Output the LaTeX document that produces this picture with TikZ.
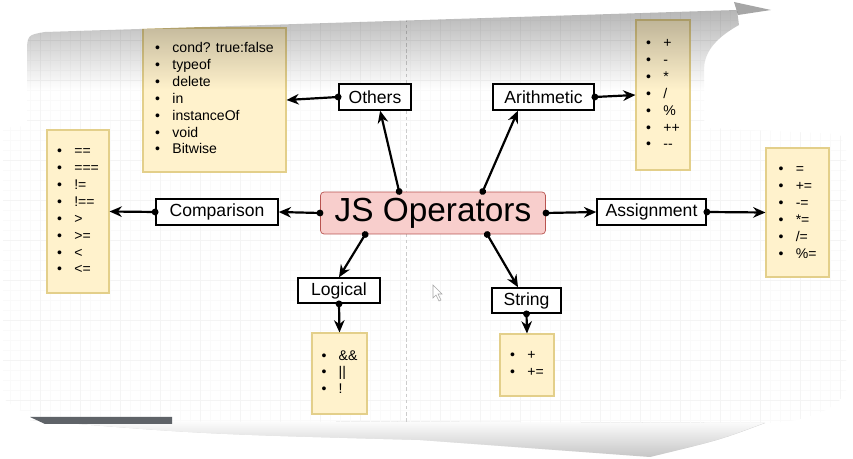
\documentclass[tikz,border=0pt]{standalone}
\usepackage{fontspec}
\setmainfont{Liberation Sans}
\usepackage{tikz}
\usetikzlibrary{arrows.meta,calc,fadings}
\definecolor{opPink}{HTML}{F8CECC}
\definecolor{opRed}{HTML}{B85450}
\definecolor{noteFill}{HTML}{FFF2CC}
\definecolor{noteLine}{HTML}{E3CF8A}
\definecolor{barGray}{HTML}{5F6368}
\tikzfading[name=topband, top color=transparent!0, bottom color=transparent!100]
\newcommand{\opbul}{\textbullet}
\newcommand{\oplist}[1]{\begin{tabular}{@{}l@{\hspace{7pt}}l@{}}#1\end{tabular}}

\begin{document}
\begin{tikzpicture}[x=0.02cm, y=-0.02cm,
  lbl/.style={draw, line width=0.8pt, fill=white, inner sep=0pt, minimum height=0.52cm, font=\fontsize{10}{12}\selectfont},
  note/.style={draw=noteLine, line width=0.6pt, fill=noteFill, inner sep=0pt, font=\fontsize{8}{9.6}\selectfont},
  link/.style={line width=1.25pt, shorten <=-1.8pt, {Circle[length=3.8pt]}-{Stealth[length=7pt,width=6pt]}}]
\useasboundingbox (0,0) rectangle (853,459);
% curled page of the screenshot
\path[fill=white] (0,0) rectangle (853,459);
\fill[gray!45] (30,420) .. controls (200,434) .. (420,440) -- (650,457) .. controls (720,440) .. (765,423) -- cycle;
\fill[white, path fading=topband] (30,420) .. controls (200,434) .. (420,440) -- (650,457) .. controls (720,440) .. (765,423) -- cycle;
\fill[gray!70] (734,2) -- (771,10) -- (738,15) -- cycle;
\begin{scope}
\clip (3,128) -- (27,126) -- (27,55) .. controls (27,35) .. (45,32) -- (737,10) -- (739,25)
  .. controls (712,40) and (704,55) .. (704,70) -- (704,128) -- (840,134) -- (846,150)
  -- (846,390) .. controls (840,410) and (800,423) .. (765,423) -- (60,421)
  .. controls (25,415) .. (3,398) -- cycle;
\foreach \gx in {0,10,...,850} \draw[gray!4, line width=0.3pt] (\gx,0) -- (\gx,459);
\foreach \gy in {0,10,...,450} \draw[gray!4, line width=0.3pt] (0,\gy) -- (853,\gy);
\foreach \gx in {0,40,...,850} \draw[gray!9, line width=0.4pt] (\gx,0) -- (\gx,459);
\foreach \gy in {0,40,...,450} \draw[gray!9, line width=0.4pt] (0,\gy) -- (853,\gy);
\draw[gray!40, dashed, line width=0.4pt, dash pattern=on 2pt off 1.5pt] (406,0) -- (406,459);
% centre and categories
\node[draw=opRed, fill=opPink, rounded corners=2pt, minimum width=4.5cm, minimum height=0.84cm, inner sep=0pt, font=\fontsize{19}{22}\selectfont] (ops) at (433,213) {JS Operators};
\node[lbl, minimum width=1.44cm] (others) at (375,97) {Others};
\node[lbl, minimum width=2.02cm] (arith) at (543.5,97) {Arithmetic};
\node[lbl, minimum width=2.44cm] (comp) at (217,212) {Comparison};
\node[lbl, minimum width=2.18cm] (assign) at (651.5,212) {Assignment};
\node[lbl, minimum width=1.64cm, minimum height=0.5cm] (logic) at (339,290.5) {Logical};
\node[lbl, minimum width=1.38cm, minimum height=0.5cm] (str) at (526.5,300.5) {String};
% operator lists
\node[note, minimum width=2.86cm, minimum height=2.88cm] (othersList) at (214.5,100) {\oplist{
  \opbul & cond? true:false\\ \opbul & typeof\\ \opbul & delete\\ \opbul & in\\
  \opbul & instanceOf\\ \opbul & void\\ \opbul & Bitwise}};
\node[note, minimum width=1.08cm, minimum height=3cm] (arithList) at (663,95) {\oplist{
  \opbul & +\\ \opbul & -\\ \opbul & *\\ \opbul & /\\ \opbul & \%\\ \opbul & ++\\ \opbul & -{}-}};
\node[note, minimum width=1.24cm, minimum height=3.26cm] (compList) at (78,211.5) {\oplist{
  \opbul & ==\\ \opbul & ===\\ \opbul & !=\\ \opbul & !==\\ \opbul & >\\ \opbul & >=\\
  \opbul & <\\ \opbul & <=}};
\node[note, minimum width=1.26cm, minimum height=2.58cm] (assignList) at (797.5,212.5) {\oplist{
  \opbul & =\\ \opbul & +=\\ \opbul & -=\\ \opbul & *=\\ \opbul & /=\\ \opbul & \%=}};
\node[note, minimum width=1.1cm, minimum height=1.62cm] (logicList) at (339.5,373.5) {\oplist{
  \opbul & \&\&\\ \opbul & ||\\ \opbul & !}};
\node[note, minimum width=1.08cm, minimum height=1.24cm] (strList) at (527,365) {\oplist{
  \opbul & +\\ \opbul & +=}};
% links
\draw[link] ($(ops.north west)!0.35!(ops.north east)$) -- ($(others.south west)!0.57!(others.south east)$);
\draw[link] ($(ops.north west)!0.72!(ops.north east)$) -- ($(arith.south west)!0.25!(arith.south east)$);
\draw[link] (ops.west) -- (comp.east);
\draw[link] (ops.east) -- (assign.west);
\draw[link] ($(ops.south west)!0.2!(ops.south east)$) -- (logic.north);
\draw[link] ($(ops.south west)!0.74!(ops.south east)$) -- ($(str.north west)!0.38!(str.north east)$);
\draw[link] (others.west) -- (othersList.east);
\draw[link] (arith.east) -- (arithList.west);
\draw[link] (comp.west) -- (compList.east);
\draw[link] (assign.east) -- (assignList.west);
\draw[link] (logic.south) -- (logicList.north);
\draw[link] (str.south) -- (strList.north);
% shading at the top of the page
\fill[black, opacity=0.32, path fading=topband] (0,0) rectangle (853,90);
\end{scope}
% mouse pointer and scroll bar
\draw[gray!70, fill=white, line width=0.3pt] (433,285) -- (433,298) -- (436,295) -- (439,301) -- (441,300) -- (438,294) -- (442,294) -- cycle;
\fill[barGray] (30,417) -- (172,417) -- (172,424) -- (45,424) -- cycle;
\end{tikzpicture}
\end{document}
